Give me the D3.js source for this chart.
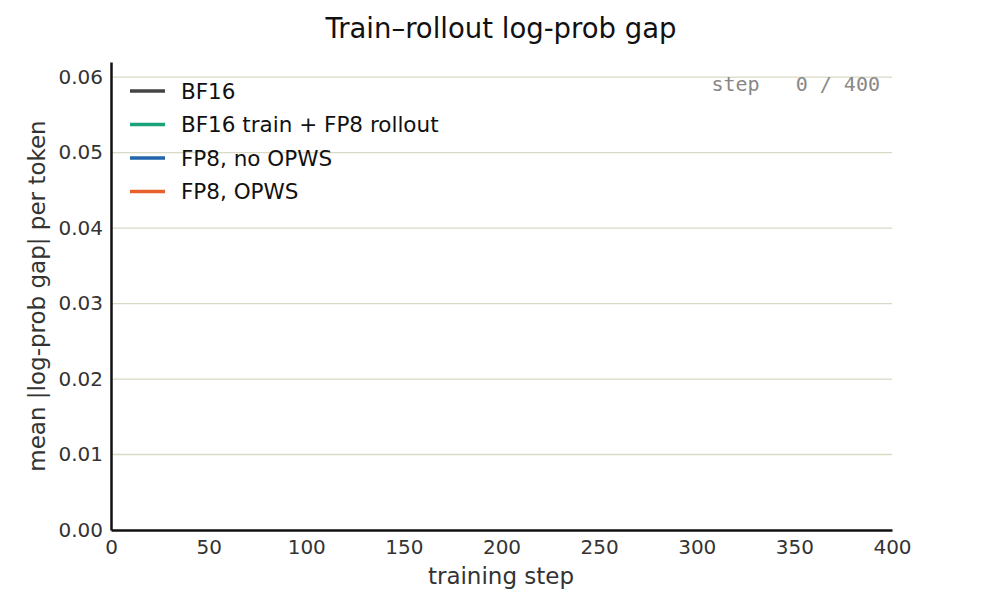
<!DOCTYPE html>
<html><head><meta charset="utf-8">
<script src="https://cdn.jsdelivr.net/npm/d3@7"></script>
<style>body{margin:0;background:#fff}text{font-family:"DejaVu Sans",sans-serif}</style>
</head><body><svg id="chart" width="1008" height="616"></svg>
<script>
const seriesNames = ["BF16", "BF16 train + FP8 rollout", "FP8, no OPWS", "FP8, OPWS"]
const seriesColors = ["#444444", "#1aa37a", "#2166ac", "#e8612c"]
// step 0 of 400: no points drawn yet
const steps = []
const seriesValues = [[], [], [], []]
const xTicks = [0, 50, 100, 150, 200, 250, 300, 350, 400]
const yTicks = [0, 0.01, 0.02, 0.03, 0.04, 0.05, 0.06]
const currentStep = 0, totalSteps = 400

const margin = {top: 62, right: 116, bottom: 86, left: 111}
const width = 1008, height = 616
const svg = d3.select("#chart")

const x = d3.scaleLinear().domain([0, 400]).range([margin.left, width - margin.right])
const y = d3.scaleLinear().domain([0, 0.062]).range([height - margin.bottom, margin.top])

svg.append("text").attr("x", 501).attr("y", 38).attr("text-anchor", "middle")
  .attr("font-size", 27.5).attr("fill", "#111").text("Train–rollout log-prob gap")

svg.append("g").selectAll("line").data(yTicks.slice(1)).join("line")
  .attr("x1", x(0)).attr("x2", x(400)).attr("y1", d => y(d)).attr("y2", d => y(d))
  .attr("stroke", "#d9d9c6").attr("stroke-width", 1.3)

const xAxis = svg.append("g").attr("transform", `translate(0,${y(0)})`)
  .call(d3.axisBottom(x).tickValues(xTicks).tickSize(0).tickPadding(7).tickFormat(d3.format("d")))
const yAxis = svg.append("g").attr("transform", `translate(${x(0)},0)`)
  .call(d3.axisLeft(y).tickValues(yTicks).tickSize(0).tickPadding(8).tickFormat(d3.format(".2f")))
for (const a of [xAxis, yAxis]) {
  a.selectAll("text").attr("font-size", 20).attr("fill", "#333").style("font-family", "DejaVu Sans")
  a.select(".domain").attr("stroke", "#111").attr("stroke-width", 2.5)
}
xAxis.selectAll("text").attr("dy", "0.85em")

svg.append("text").attr("x", 501).attr("y", 584).attr("text-anchor", "middle")
  .attr("font-size", 23).attr("fill", "#333").text("training step")
svg.append("text").attr("transform", `translate(45,296) rotate(-90)`).attr("text-anchor", "middle")
  .attr("font-size", 23).attr("fill", "#333").text("mean |log-prob gap| per token")

const line = d3.line().x((d, i) => x(steps[i])).y(d => y(d))
svg.append("g").selectAll("path").data(seriesValues).join("path")
  .attr("d", d => line(d)).attr("fill", "none").attr("stroke", (d, i) => seriesColors[i]).attr("stroke-width", 2.5)

const leg = svg.append("g").selectAll("g").data(seriesNames).join("g")
  .attr("transform", (d, i) => `translate(130,${91 + i * 33.5})`)
leg.append("line").attr("x1", 0).attr("x2", 35).attr("stroke", (d, i) => seriesColors[i]).attr("stroke-width", 3.5)
leg.append("text").attr("x", 51).attr("dy", "0.35em").attr("font-size", 21.5).attr("fill", "#111").text(d => d)

svg.append("text").attr("x", 880).attr("y", 91).attr("text-anchor", "end")
  .attr("font-size", 20).attr("fill", "#888").style("font-family", "DejaVu Sans Mono")
  .attr("xml:space", "preserve").style("white-space", "pre")
  .text(`step ${String(currentStep).padStart(3, " ")} / ${totalSteps}`)
</script></body></html>
